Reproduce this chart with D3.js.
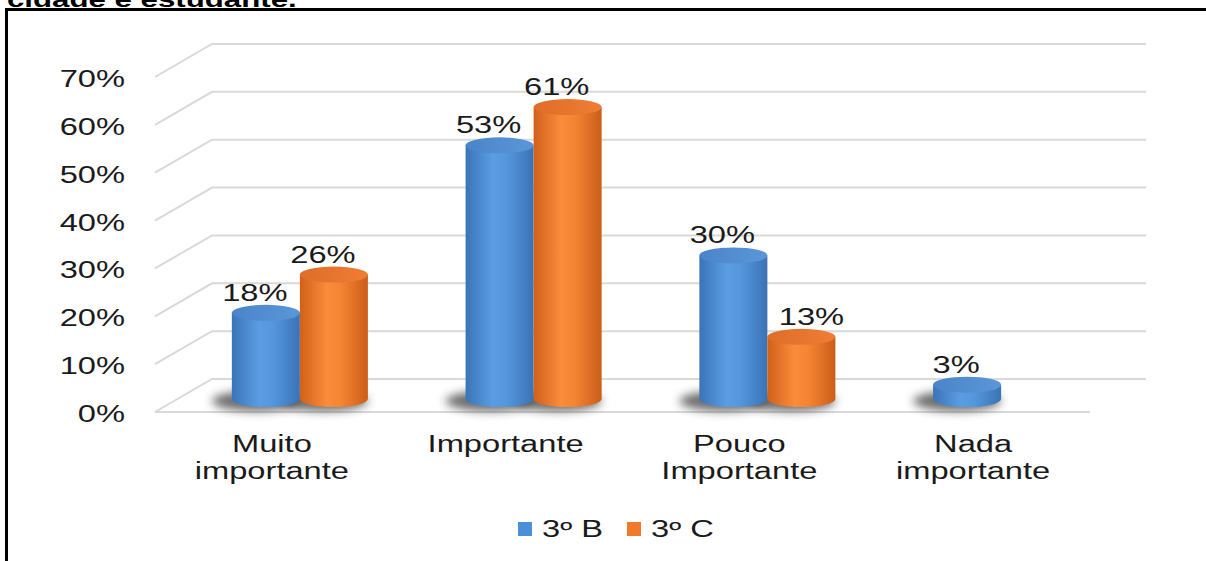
<!DOCTYPE html>
<html>
<head>
<meta charset="utf-8">
<script src="https://cdn.jsdelivr.net/npm/d3@7"></script>
<style>
  body { margin: 0; background: #fff; }
  svg { display: block; font-family: "Liberation Sans", Arial, sans-serif; }
</style>
</head>
<body>
<svg id="chart" width="1206" height="561"></svg>
<script>
// data
var categories = [["Muito", "importante"], ["Importante"], ["Pouco", "Importante"], ["Nada", "importante"]];
var series = ["3º B", "3º C"];
var valuesB = [0.18, 0.53, 0.30, 0.03];
var valuesC = [0.26, 0.61, 0.13, null];
var ticks = [0, 0.1, 0.2, 0.3, 0.4, 0.5, 0.6, 0.7];

var width = 1206, height = 561;
var depthX = 57, depthY = -33;       // back wall offset
var cylX = 28, cylY = -13;           // cylinders sit mid depth
var sx = 1.42;                       // the source picture is stretched sideways
var fs = 23;

var svg = d3.select("#chart");

function place(px, py) { return `translate(${px},${py}) scale(${sx},1)`; }

// title fragment (cut off above)
svg.append("text")
    .attr("transform", place(7, 7))
    .attr("font-size", 22).attr("font-weight", "bold")
    .text("cidade e estudante.");

// frame
svg.append("line").attr("x1", 5).attr("x2", width).attr("y1", 9.5).attr("y2", 9.5)
    .attr("stroke", "#000").attr("stroke-width", 3);
svg.append("line").attr("x1", 6.5).attr("x2", 6.5).attr("y1", 8).attr("y2", height)
    .attr("stroke", "#000").attr("stroke-width", 3);

var x = d3.scaleBand()
    .domain(d3.range(categories.length))
    .range([155, 1090])
    .paddingInner(0.418)
    .paddingOuter(0.209);

var xs = d3.scaleBand()
    .domain(series)
    .range([0, x.bandwidth()]);

var y = d3.scaleLinear()
    .domain([0, 0.7])
    .range([412, 77]);

var defs = svg.append("defs");
var blur = defs.append("filter").attr("id", "blur").attr("x", "-50%").attr("y", "-100%").attr("width", "200%").attr("height", "300%");
blur.append("feGaussianBlur").attr("stdDeviation", 5);

function grad(id, stops) {
  var g = defs.append("linearGradient").attr("id", id).attr("x1", "0%").attr("x2", "100%");
  stops.forEach(s => g.append("stop").attr("offset", s[0]).attr("stop-color", s[1]));
}
grad("bodyB", [["0%", "#3a74b6"], ["40%", "#5b9de2"], ["60%", "#5597dc"], ["100%", "#3a73b5"]]);
grad("bodyC", [["0%", "#d2601a"], ["40%", "#fa8c3c"], ["60%", "#f58433"], ["100%", "#cc5d18"]]);
grad("topB", [["0%", "#4a85c9"], ["100%", "#5a96d8"]]);
grad("topC", [["0%", "#e06d28"], ["100%", "#ef7d34"]]);

// grid: diagonal side wall + back wall lines
var grid = svg.append("g").attr("fill", "none").attr("stroke", "#d9d9d9").attr("stroke-width", 2);
grid.selectAll("path")
  .data(ticks)
  .join("path")
    .attr("d", t => `M155,${y(t)}L${155 + depthX},${y(t) + depthY}L1146,${y(t) + depthY}`);
grid.append("line")
    .attr("x1", 155).attr("x2", 1090)
    .attr("y1", y(0)).attr("y2", y(0));

// y axis labels
svg.append("g")
    .attr("text-anchor", "end")
    .attr("font-size", fs)
    .attr("fill", "#1a1a1a")
  .selectAll("text")
  .data(ticks)
  .join("text")
    .attr("transform", t => place(125, y(t) + 2))
    .attr("dy", "0.35em")
    .text(d3.format(".0%"));

// bars
var bars = [];
categories.forEach((c, i) => {
  [valuesB[i], valuesC[i]].forEach((v, j) => {
    if (v == null) return;
    bars.push({ i: i, s: series[j], j: j, v: v,
      prev: j > 0 ? valuesB[i] : null });
  });
});

var rx = xs.bandwidth() / 2, ry = 8;
var cx = d => x(d.i) + xs(d.s) + rx + cylX;
var baseY = y(0) + cylY;
var topY = d => y(d.v) + cylY;

// shadows
svg.append("g").selectAll("ellipse")
  .data(bars)
  .join("ellipse")
    .attr("cx", d => cx(d) - 10)
    .attr("cy", baseY + 2)
    .attr("rx", rx + 10)
    .attr("ry", ry + 2)
    .attr("fill", "#3a3a3a")
    .attr("opacity", 0.75)
    .attr("filter", "url(#blur)");

var cyl = svg.append("g").selectAll("g")
  .data(bars)
  .join("g");

cyl.append("path")
    .attr("fill", d => d.j === 0 ? "url(#bodyB)" : "url(#bodyC)")
    .attr("d", d => {
      var l = cx(d) - rx, r = cx(d) + rx, t = topY(d);
      return `M${l},${t}L${l},${baseY}A${rx},${ry} 0 0 0 ${r},${baseY}L${r},${t}Z`;
    });

cyl.append("ellipse")
    .attr("cx", cx)
    .attr("cy", topY)
    .attr("rx", rx)
    .attr("ry", ry)
    .attr("fill", d => d.j === 0 ? "url(#topB)" : "url(#topC)");

// value labels
svg.append("g")
    .attr("text-anchor", "middle")
    .attr("font-size", fs)
    .attr("fill", "#1a1a1a")
  .selectAll("text")
  .data(bars)
  .join("text")
    .attr("transform", d => place(cx(d) + (d.prev != null && d.prev > d.v ? 10 : -11), topY(d) - ry - 4))
    .text(d => d3.format(".0%")(d.v));

// category labels
svg.append("g")
    .attr("text-anchor", "middle")
    .attr("font-size", fs)
    .attr("fill", "#1a1a1a")
  .selectAll("text")
  .data(categories)
  .join("text")
    .attr("transform", (d, i) => place(x(i) + x.bandwidth() / 2, 452))
  .selectAll("tspan")
  .data(d => d)
  .join("tspan")
    .attr("x", 0)
    .attr("dy", (d, k) => k === 0 ? 0 : 27)
    .text(d => d);

// legend
var legendColors = ["#4a8fd8", "#f07a2a"];
var lg = svg.append("g").attr("font-size", fs).attr("fill", "#1a1a1a");
var legendX = [518, 627];
var items = lg.selectAll("g")
  .data(series)
  .join("g")
    .attr("transform", (d, i) => `translate(${legendX[i]},0)`);
items.append("rect")
    .attr("y", 522).attr("width", 14).attr("height", 14)
    .attr("fill", (d, i) => legendColors[i]);
items.append("text")
    .attr("transform", place(24, 537))
    .text(d => d);
</script>
</body>
</html>
